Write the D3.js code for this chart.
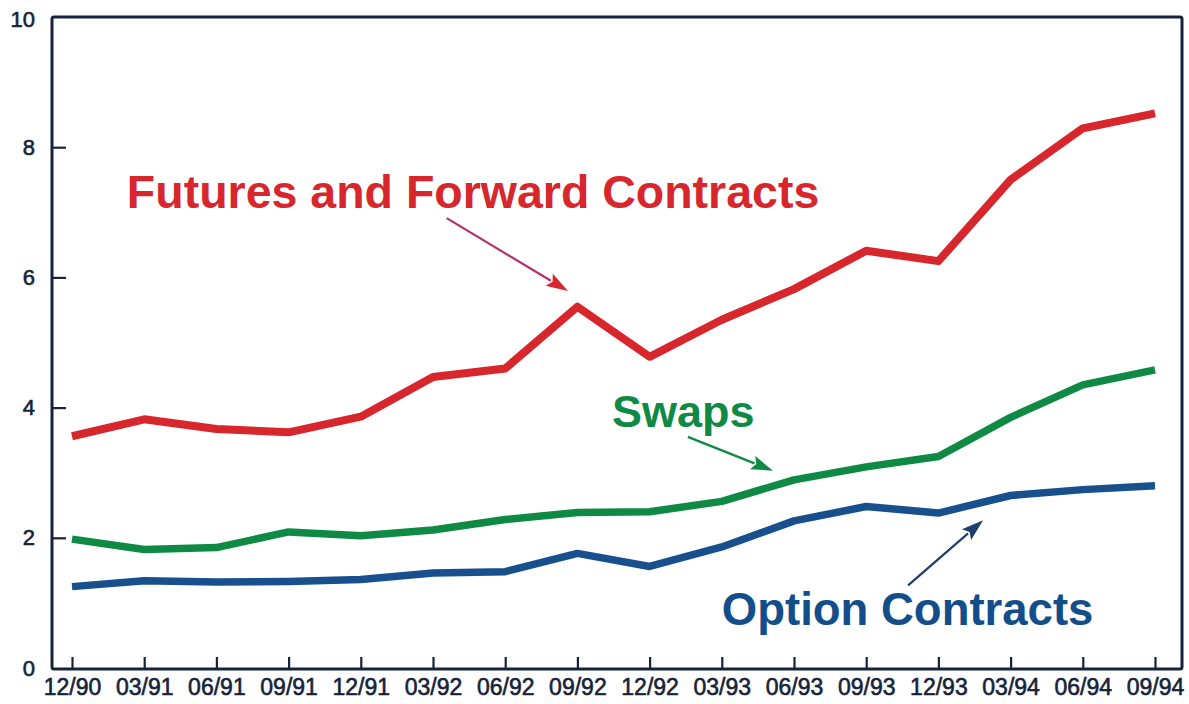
<!DOCTYPE html>
<html><head><meta charset="utf-8">
<script src="https://cdn.jsdelivr.net/npm/d3@7/dist/d3.min.js"></script>
<style>html,body{margin:0;padding:0;background:#fff;}svg{display:block;}</style>
</head><body><svg id="c" width="1189" height="704"></svg>
<script>
const categories = ["12/90","03/91","06/91","09/91","12/91","03/92","06/92","09/92","12/92","03/93","06/93","09/93","12/93","03/94","06/94","09/94"];
const futures = [3.56,3.82,3.67,3.62,3.86,4.47,4.60,5.55,4.78,5.35,5.82,6.41,6.25,7.50,8.29,8.52];
const swaps   = [1.98,1.82,1.85,2.09,2.03,2.12,2.28,2.39,2.40,2.56,2.89,3.09,3.25,3.85,4.35,4.58];
const options = [1.25,1.34,1.32,1.33,1.36,1.46,1.48,1.76,1.56,1.86,2.26,2.48,2.38,2.65,2.74,2.80];
const yTicks = [0,2,4,6,8,10];

const svg = d3.select("#c");
const L=52, T=17, R=1182, B=669;
const x = d3.scalePoint().domain(categories).range([72,1155]);
const xi = d3.scaleLinear().domain([0,categories.length-1]).range([72,1155]);
const y = d3.scaleLinear().domain([0,10]).range([668,17]);
const ink = "#16233a";
const font = "'Liberation Sans', Arial, Helvetica, sans-serif";

// frame
svg.append("rect").attr("x",L).attr("y",T).attr("width",R-L).attr("height",B-T)
  .attr("fill","none").attr("stroke",ink).attr("stroke-width",3).attr("rx",2);

// bottom axis
const xAxis = d3.axisBottom(x).tickSizeInner(-12).tickSizeOuter(0).tickPadding(21);
const gx = svg.append("g").attr("transform",`translate(0,${B})`).call(xAxis);
gx.select(".domain").remove();
gx.selectAll(".tick line").attr("stroke",ink).attr("stroke-width",2.2);
gx.selectAll(".tick text").attr("font-family",font).attr("font-size",23).attr("fill",ink)
  .attr("stroke",ink).attr("stroke-width",0.6).attr("dy","0.2em");

// left axis
const yAxis = d3.axisLeft(y).tickValues(yTicks).tickSizeInner(-14).tickSizeOuter(0).tickPadding(17).tickFormat(d3.format("d"));
const gy = svg.append("g").attr("transform",`translate(${L},0)`).call(yAxis);
gy.select(".domain").remove();
gy.selectAll(".tick line").attr("stroke",ink).attr("stroke-width",2.2)
  .attr("display",d=>(d===0||d===10)?"none":null);
gy.selectAll(".tick text").attr("font-family",font).attr("font-size",22).attr("fill",ink)
  .attr("stroke",ink).attr("stroke-width",0.6).attr("dy",d=>d===10?"0.45em":"0.32em");

// lines
const line = d3.line().x((d,i)=>x(categories[i])).y(d=>y(d)).curve(d3.curveLinear);
const series = [
  {vals:futures, color:"#d8262d", w:8},
  {vals:swaps,   color:"#0f8a45", w:7.5},
  {vals:options, color:"#17508c", w:7.5}
];
series.forEach(s=>{
  svg.append("path").datum(s.vals).attr("d",line).attr("fill","none")
    .attr("stroke",s.color).attr("stroke-width",s.w).attr("stroke-linejoin","round");
});

// annotations (data units: index, value)
const labels = [
  {text:"Futures and Forward Contracts", i:0.76, v:7.07, color:"#d8262d", size:46.5},
  {text:"Swaps", i:7.48, v:3.70, color:"#0f8a45", size:45},
  {text:"Option Contracts", i:9.0, v:0.66, color:"#134d8a", size:45.5}
];
labels.forEach(l=>{
  svg.append("text").attr("x",xi(l.i)).attr("y",y(l.v)).text(l.text)
    .attr("font-family",font).attr("font-weight","bold").attr("font-size",l.size).attr("fill",l.color);
});

const arrows = [
  {i0:5.19, v0:6.91, i1:6.87, v1:5.79, line:"#b0306a", head:"#d8262d"},
  {i0:8.53, v0:3.55, i1:9.71, v1:3.03, line:"#0f8a45", head:"#0f8a45"},
  {i0:11.58, v0:1.27, i1:12.62, v1:2.27, line:"#1c3f6e", head:"#1c3f6e"}
];
arrows.forEach(a=>{
  const x0=xi(a.i0), y0=y(a.v0), x1=xi(a.i1), y1=y(a.v1);
  const dx=x1-x0, dy=y1-y0, len=Math.hypot(dx,dy), ux=dx/len, uy=dy/len;
  const hl=22, hw=7;
  const bx=x1-ux*hl, by=y1-uy*hl;
  svg.append("line").attr("x1",x0).attr("y1",y0).attr("x2",bx+ux*2).attr("y2",by+uy*2)
    .attr("stroke",a.line).attr("stroke-width",2.2);
  svg.append("polygon").attr("points",[[x1,y1],[bx-uy*hw,by+ux*hw],[bx+ux*4,by+uy*4],[bx+uy*hw,by-ux*hw]].map(p=>p.join(",")).join(" "))
    .attr("fill",a.head);
});
</script></body></html>
